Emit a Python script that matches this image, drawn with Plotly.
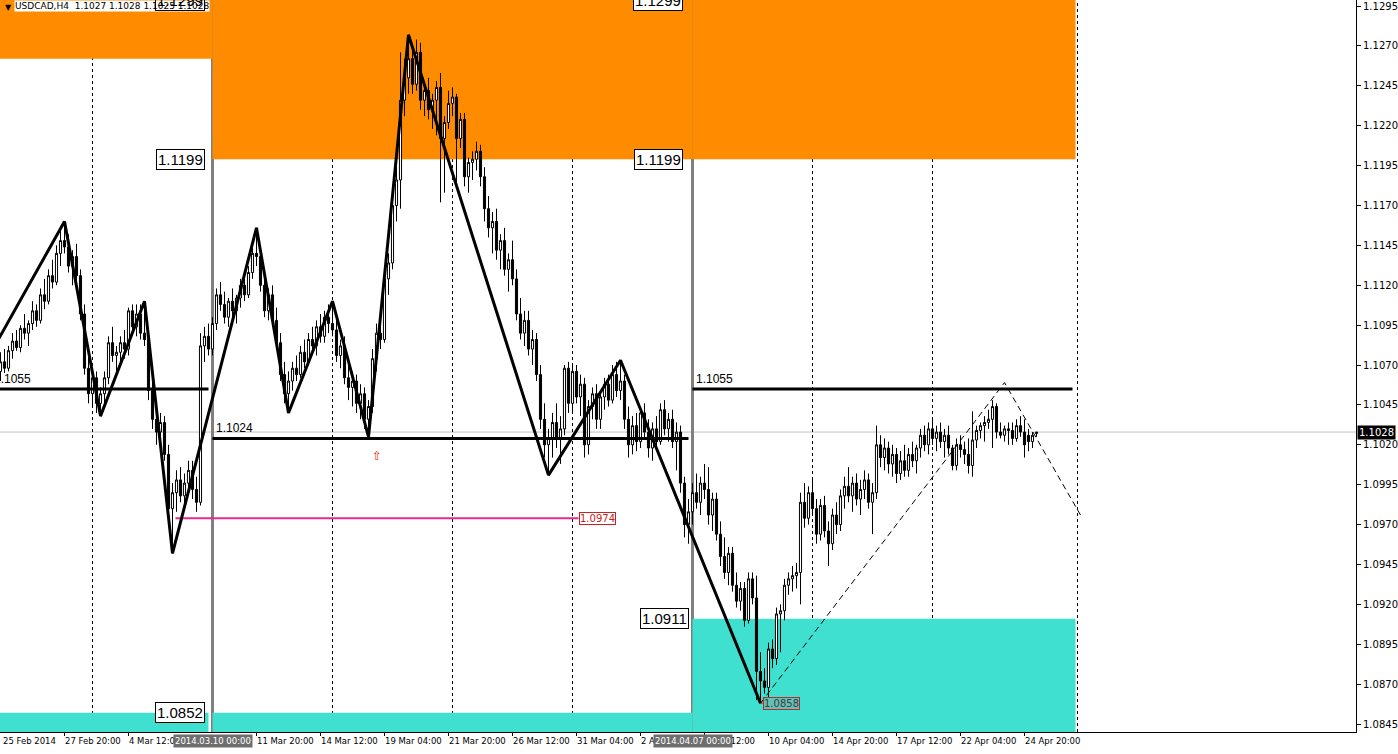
import plotly.graph_objects as go

# ---------------- data (prices in 1e-4 units) ----------------
bar_open = [11066,11072,11068,11079,11085,11081,11093,11090,11096,11104,11098,11114,11110,11126,11122,11140,11148,11144,11132,11138,
            11126,11102,11068,11052,11062,11046,11052,11062,11084,11076,11078,11084,11080,11104,11094,11102,11090,11086,11054,11036,
            11028,11034,11014,10980,10990,10998,10988,10996,11004,10992,10984,11082,11088,11080,11096,11114,11108,11100,11110,11104,
            11112,11120,11114,11128,11140,11138,11120,11104,11114,11098,11084,11064,11052,11060,11068,11064,11078,11072,11086,11082,
            11094,11088,11100,11096,11092,11076,11082,11062,11056,11060,11046,11052,11036,11044,11074,11090,11086,11124,11134,11170,
            11186,11236,11250,11262,11246,11266,11236,11242,11230,11236,11244,11212,11222,11234,11238,11212,11224,11188,11197,11199,
            11204,11188,11168,11156,11160,11142,11148,11130,11136,11124,11102,11090,11098,11080,11086,11064,11036,11020,11024,11034,
            11024,11030,11068,11046,11066,11050,11058,11020,11044,11052,11036,11050,11058,11048,11064,11054,11060,11036,11020,11032,
            11022,11040,11028,11018,11030,11022,11042,11030,11036,11022,11028,10996,10970,10978,10990,10984,10996,10992,10976,10986,
            10964,10950,10940,10952,10932,10922,10930,10910,10936,10924,10878,10872,10868,10892,10886,10914,10916,10932,10936,10938,
            10940,10984,10974,10990,10980,10964,10982,10966,10958,10976,10970,10988,10994,10988,10996,10986,10992,10998,10984,10990,
            11020,11012,11018,11008,11014,11002,11010,11004,11014,11010,11018,11026,11020,11030,11024,11028,11022,11026,11018,11007,
            11020,11017,11014,11007,11023,11029,11032,11034,11036,11044,11028,11026,11030,11029,11024,11032,11028,11026,11022,11027]
bar_high = [11078,11080,11082,11090,11092,11095,11102,11098,11110,11108,11118,11124,11130,11136,11145,11156,11160,11152,11142,11146,
            11130,11108,11076,11066,11066,11056,11066,11088,11094,11082,11088,11092,11106,11108,11108,11108,11110,11092,11062,11044,
            11040,11038,11020,10996,11004,11006,11002,11010,11010,11000,11090,11094,11096,11100,11118,11122,11116,11112,11118,11114,
            11124,11128,11132,11146,11156,11144,11126,11118,11120,11106,11090,11072,11066,11072,11076,11082,11086,11090,11094,11098,
            11102,11104,11108,11110,11098,11086,11088,11070,11066,11064,11058,11056,11048,11080,11096,11102,11130,11140,11178,11194,
            11266,11262,11277,11270,11274,11272,11248,11250,11240,11248,11253,11226,11242,11244,11240,11228,11228,11200,11204,11210,
            11208,11194,11176,11166,11168,11152,11156,11140,11148,11130,11112,11104,11104,11092,11090,11070,11046,11030,11040,11046,
            11038,11070,11072,11070,11070,11064,11062,11048,11056,11058,11054,11062,11064,11070,11072,11073,11064,11044,11038,11040,
            11044,11046,11036,11034,11038,11046,11048,11040,11042,11034,11032,11000,10986,10996,11002,11000,11008,11006,10990,10990,
            10972,10962,10956,10956,10940,10934,10934,10940,10940,10938,10890,10880,10896,10898,10918,10920,10936,10940,10944,10946,
            10990,10996,10994,10998,10986,10986,10988,10972,10980,10984,10992,11000,11006,11000,11002,10998,11004,11002,10996,11032,
            11026,11024,11022,11020,11018,11016,11020,11018,11022,11020,11030,11032,11034,11036,11032,11034,11030,11032,11020,11024,
            11026,11022,11024,11041,11032,11034,11038,11042,11048,11046,11034,11032,11034,11034,11036,11038,11036,11030,11028,11028]
bar_low = [11060,11065,11066,11074,11079,11078,11086,11082,11092,11094,11096,11105,11108,11118,11120,11132,11140,11128,11120,11122,
           11098,11064,11046,11044,11040,11038,11046,11058,11072,11066,11072,11074,11076,11090,11088,11086,11082,11048,11030,11020,
           11018,11010,10972,10952,10978,10984,10980,10990,10986,10978,10982,11072,11076,11076,11092,11104,11096,11094,11100,11096,
           11106,11110,11112,11124,11132,11116,11100,11098,11094,11080,11060,11046,11040,11054,11060,11062,11068,11070,11078,11076,
           11084,11084,11090,11088,11072,11068,11058,11048,11044,11040,11036,11030,11025,11040,11066,11080,11084,11114,11130,11160,
           11168,11226,11240,11240,11242,11230,11226,11224,11218,11214,11172,11178,11218,11226,11182,11206,11182,11178,11186,11192,
           11182,11160,11150,11140,11136,11130,11126,11116,11120,11098,11086,11082,11076,11070,11060,11030,11012,11001,11012,11018,
           11008,11026,11040,11040,11046,11038,11012,11014,11036,11030,11030,11042,11044,11046,11050,11048,11030,11012,11014,11016,
           11018,11024,11012,11010,11018,11020,11026,11022,11018,11004,10990,10962,10958,10970,10980,10976,10986,10970,10966,10960,
           10944,10936,10932,10928,10918,10916,10906,10908,10920,10860,10858,10864,10862,10880,10882,10890,10910,10926,10928,10930,
           10920,10968,10970,10976,10958,10960,10962,10944,10954,10964,10966,10980,10984,10978,10982,10976,10986,10980,10964,10986,
           11006,11004,11002,11000,10996,10998,11000,11000,11006,11002,11012,11016,11014,11020,11016,11018,11012,11014,11004,11004,
           11012,11008,11002,11000,11018,11024,11022,11030,11018,11024,11024,11022,11020,11020,11022,11025,11012,11016,11018,11025]
bar_close = [11072,11068,11079,11085,11081,11093,11090,11096,11104,11098,11114,11110,11126,11122,11140,11148,11144,11132,11138,11126,
             11102,11068,11052,11062,11046,11052,11062,11084,11076,11078,11084,11080,11104,11094,11102,11090,11086,11054,11036,11028,
             11034,11014,10980,10990,10998,10988,10996,11004,10992,10984,11082,11088,11080,11096,11114,11108,11100,11110,11104,11112,
             11120,11114,11128,11140,11138,11120,11104,11114,11098,11084,11064,11052,11060,11068,11064,11078,11072,11086,11082,11094,
             11088,11100,11096,11092,11076,11082,11062,11056,11060,11046,11052,11036,11044,11074,11090,11086,11124,11134,11170,11186,
             11236,11250,11262,11246,11266,11236,11242,11230,11236,11244,11212,11222,11234,11238,11212,11224,11188,11197,11199,11204,
             11188,11168,11156,11160,11142,11148,11130,11136,11124,11102,11090,11098,11080,11086,11064,11036,11020,11024,11034,11024,
             11030,11068,11046,11066,11050,11058,11020,11044,11052,11036,11050,11058,11048,11064,11054,11060,11036,11020,11032,11022,
             11040,11028,11018,11030,11022,11042,11030,11036,11022,11028,10996,10970,10978,10990,10984,10996,10992,10976,10986,10964,
             10950,10940,10952,10932,10922,10930,10910,10936,10924,10878,10872,10868,10892,10886,10914,10916,10932,10936,10938,10940,
             10984,10974,10990,10980,10964,10982,10966,10958,10976,10970,10988,10994,10988,10996,10986,10992,10998,10984,10990,11020,
             11012,11018,11008,11014,11002,11010,11004,11014,11010,11018,11026,11020,11030,11024,11028,11022,11026,11018,11007,11020,
             11017,11014,11007,11023,11029,11032,11034,11036,11044,11028,11026,11030,11029,11024,11032,11028,11020,11022,11026,11028]

# zigzag pivots (bar index, price)
zz_bar = [-3, 16, 25, 36, 43, 64, 72, 83, 92, 102, 137, 155, 190]
zz_price = [1.1075, 1.1160, 1.1038, 1.1110, 1.0952, 1.1156, 1.1040, 1.1110, 1.1025, 1.1277, 1.1001, 1.1073, 1.0858]
proj_bar = [190, 251, 270]
proj_price = [1.0858, 1.1059, 1.0976]

# horizontal levels
lvl_x0 = [-2, 53, 173]
lvl_x1 = [52, 172, 268]
lvl_price = [1.1055, 1.1024, 1.1055]
lvl_text = ["1.1055", "1.1024", "1.1055"]
pink_x = [43.75, 144.5]
pink_price = 1.0974
current_price = 1.1028

# supply / demand zones
zone_x0 = [-2, -2, 53, 53, 173, 173]
zone_x1 = [53, 52, 173, 173, 268.75, 268.75]
zone_lo = [1.1262, 1.0830, 1.1199, 1.0830, 1.1199, 1.0830]
zone_hi = [1.1310, 1.0852, 1.1310, 1.0852, 1.1310, 1.0911]
zone_kind = ["sell", "buy", "sell", "buy", "sell", "buy"]
zl_text = ["1.1299", "1.1199", "1.0852", "1.1299", "1.1199", "1.0911"]
zl_price = [1.1299, 1.1199, 1.0852, 1.1299, 1.1199, 1.0911]
zl_bar = [51, 51, 51, 170.5, 170.5, 172]

# time axis
sep_bar = [23, 53, 83, 113, 143, 173, 203, 233, 269.25]
mark_bar = [53, 173]
mark_text = ["2014.03.10 00:00", "2014.04.07 00:00"]
tlab_bar = [0.5, 16, 32, 64, 80, 96, 112, 128, 144, 160, 176, 192, 208, 224, 240, 256]
tlab_text = ["25 Feb 2014", "27 Feb 20:00", "4 Mar 12:00", "11 Mar 20:00", "14 Mar 12:00", "19 Mar 04:00",
             "21 Mar 20:00", "26 Mar 12:00", "31 Mar 04:00", "2 Apr 20:00", "7 Apr 12:00", "10 Apr 04:00",
             "14 Apr 20:00", "17 Apr 12:00", "22 Apr 04:00", "24 Apr 20:00"]
ytick_vals = [1.0845 + 0.0025 * i for i in range(19)]

Y_MIN, Y_MAX = 1.0840, 1.12988
P = 10000.0
xb = list(range(len(bar_close)))

fig = go.Figure()
fig.add_trace(go.Candlestick(
    x=xb, open=[v / P for v in bar_open], high=[v / P for v in bar_high],
    low=[v / P for v in bar_low], close=[v / P for v in bar_close],
    increasing=dict(line=dict(color="black", width=1), fillcolor="white"),
    decreasing=dict(line=dict(color="black", width=1), fillcolor="black"),
    whiskerwidth=0, hoverinfo="skip"))

for x0, x1, p in zip(lvl_x0, lvl_x1, lvl_price):
    fig.add_trace(go.Scatter(x=[x0, x1], y=[p, p], mode="lines",
                             line=dict(color="black", width=3), hoverinfo="skip"))
fig.add_trace(go.Scatter(x=pink_x, y=[pink_price, pink_price], mode="lines",
                         line=dict(color="#E8288F", width=2), hoverinfo="skip"))
fig.add_trace(go.Scatter(x=zz_bar, y=zz_price, mode="lines",
                         line=dict(color="black", width=3), hoverinfo="skip"))
fig.add_trace(go.Scatter(x=proj_bar, y=proj_price, mode="lines",
                         line=dict(color="black", width=1, dash="6px,4px"), hoverinfo="skip"))

shapes = []
for x0, x1, lo, hi, k in zip(zone_x0, zone_x1, zone_lo, zone_hi, zone_kind):
    shapes.append(dict(type="rect", xref="x", yref="y", x0=x0, x1=x1, y0=lo, y1=hi,
                       fillcolor="#FF8C00" if k == "sell" else "#40E0D0",
                       line=dict(width=0), layer="below"))
shapes.append(dict(type="line", xref="paper", yref="y", x0=0, x1=1, y0=current_price, y1=current_price,
                   line=dict(color="#C0C0C0", width=1), layer="below"))
for s in sep_bar:
    shapes.append(dict(type="line", xref="x", yref="paper", x0=s, x1=s, y0=0, y1=1,
                       line=dict(color="black", width=1, dash="3px,3px"), layer="below"))
for s in mark_bar:
    shapes.append(dict(type="line", xref="x", yref="paper", x0=s, x1=s, y0=0, y1=1,
                       line=dict(color="#808080", width=3), layer="below"))
shapes.append(dict(type="line", xref="x", yref="y", x0=zz_bar[-1], x1=zz_bar[-1] + 0.6,
                   y0=zz_price[-1], y1=zz_price[-1], line=dict(color="#C03030", width=1)))

ann = []
# title (drawn first so the zone label box sits over its background)
ann.append(dict(x=0.002, y=1, xref="paper", yref="paper", text="▼", showarrow=False, xanchor="left",
                yanchor="top", yshift=-1, font=dict(family="DejaVu Sans", size=8, color="black")))
ann.append(dict(x=3.3, y=1, xref="x", yref="paper",
                text="USDCAD,H4\u00a0\u00a01.1027 1.1028 1.1025 1.1028", showarrow=False, xanchor="left",
                yanchor="top", bgcolor="white", borderpad=0,
                font=dict(family="DejaVu Sans", size=9, color="black")))
for x0, p, t in zip(lvl_x0, lvl_price, lvl_text):
    if x0 < 0:
        ann.append(dict(x=0, y=p, xref="x", yref="y", text=t, showarrow=False, xanchor="left",
                        yanchor="bottom", yshift=1, xshift=-9,
                        font=dict(family="Liberation Sans", size=12, color="black")))
    else:
        ann.append(dict(x=x0 + 0.3, y=p, xref="x", yref="y", text=t, showarrow=False, xanchor="left",
                        yanchor="bottom", yshift=1,
                        font=dict(family="Liberation Sans", size=12, color="black")))
for b, p, t in zip(zl_bar, zl_price, zl_text):
    yy = min(p, Y_MAX - 0.00001)
    over_title = (p > Y_MAX and b < 60)
    ann.append(dict(x=b, y=yy, xref="x", yref="y", text=t, showarrow=False, xanchor="right",
                    yanchor="middle", bgcolor="rgba(0,0,0,0)" if over_title else "white",
                    bordercolor="black", borderwidth=1, borderpad=1,
                    font=dict(family="Liberation Sans", size=15, color="black")))
ann.append(dict(x=pink_x[1], y=pink_price, xref="x", yref="y", text="1.0974", showarrow=False,
                xanchor="left", yanchor="middle", bgcolor="white", bordercolor="#CC2020", borderwidth=1,
                borderpad=0, font=dict(family="DejaVu Sans", size=10, color="#CC2020")))
ann.append(dict(x=zz_bar[-1] + 0.6, y=zz_price[-1], xref="x", yref="y", text="1.0858", showarrow=False,
                xanchor="left", yanchor="middle", bgcolor="rgba(150,150,150,0.45)", bordercolor="#B03030",
                borderwidth=1, borderpad=0, font=dict(family="DejaVu Sans", size=10, color="#404040")))
ann.append(dict(x=94, y=1.1013, xref="x", yref="y", text="⇧", showarrow=False,
                font=dict(family="DejaVu Sans", size=12, color="#E02020")))
# time labels
for b, t in zip(tlab_bar, tlab_text):
    ann.append(dict(x=b, y=0, xref="x", yref="paper", text=t, showarrow=False, xanchor="left",
                    yanchor="top", yshift=-2, xshift=-2,
                    font=dict(family="DejaVu Sans", size=8.5, color="black")))
for b, t in zip(mark_bar, mark_text):
    ann.append(dict(x=b, y=0, xref="x", yref="paper", text=t, showarrow=False, xanchor="center",
                    yanchor="top", yshift=-2, bgcolor="#6E6E6E", borderpad=1,
                    font=dict(family="DejaVu Sans", size=8.5, color="white")))
# current price tag
ann.append(dict(x=1, y=current_price, xref="paper", yref="y", text="1.1028", showarrow=False,
                xanchor="left", yanchor="middle", xshift=1, bgcolor="black", borderpad=1,
                font=dict(family="DejaVu Sans", size=10, color="white")))

fig.update_layout(
    width=1398, height=754, margin=dict(l=0, r=42, t=0, b=22),
    plot_bgcolor="white", paper_bgcolor="white", showlegend=False,
    shapes=shapes, annotations=ann, boxgap=0.25,
    xaxis=dict(range=[-0.125, 338.875], showgrid=False, zeroline=False, showline=True, linecolor="black",
               linewidth=1, ticks="outside", ticklen=3, tickcolor="black",
               tickvals=tlab_bar[1:], ticktext=[""] * (len(tlab_bar) - 1),
               rangeslider=dict(visible=False), fixedrange=True),
    yaxis=dict(side="right", range=[Y_MIN, Y_MAX], tickvals=ytick_vals,
               ticktext=["%.4f" % v for v in ytick_vals], showgrid=False, zeroline=False,
               showline=True, linecolor="black", linewidth=1, ticks="outside", ticklen=4,
               tickcolor="black", tickfont=dict(family="DejaVu Sans", size=10, color="black"),
               fixedrange=True),
)

fig.write_html("out.html", config={"displayModeBar": False},
               post_script="document.body.style.margin='0';document.body.style.overflow='hidden';")
